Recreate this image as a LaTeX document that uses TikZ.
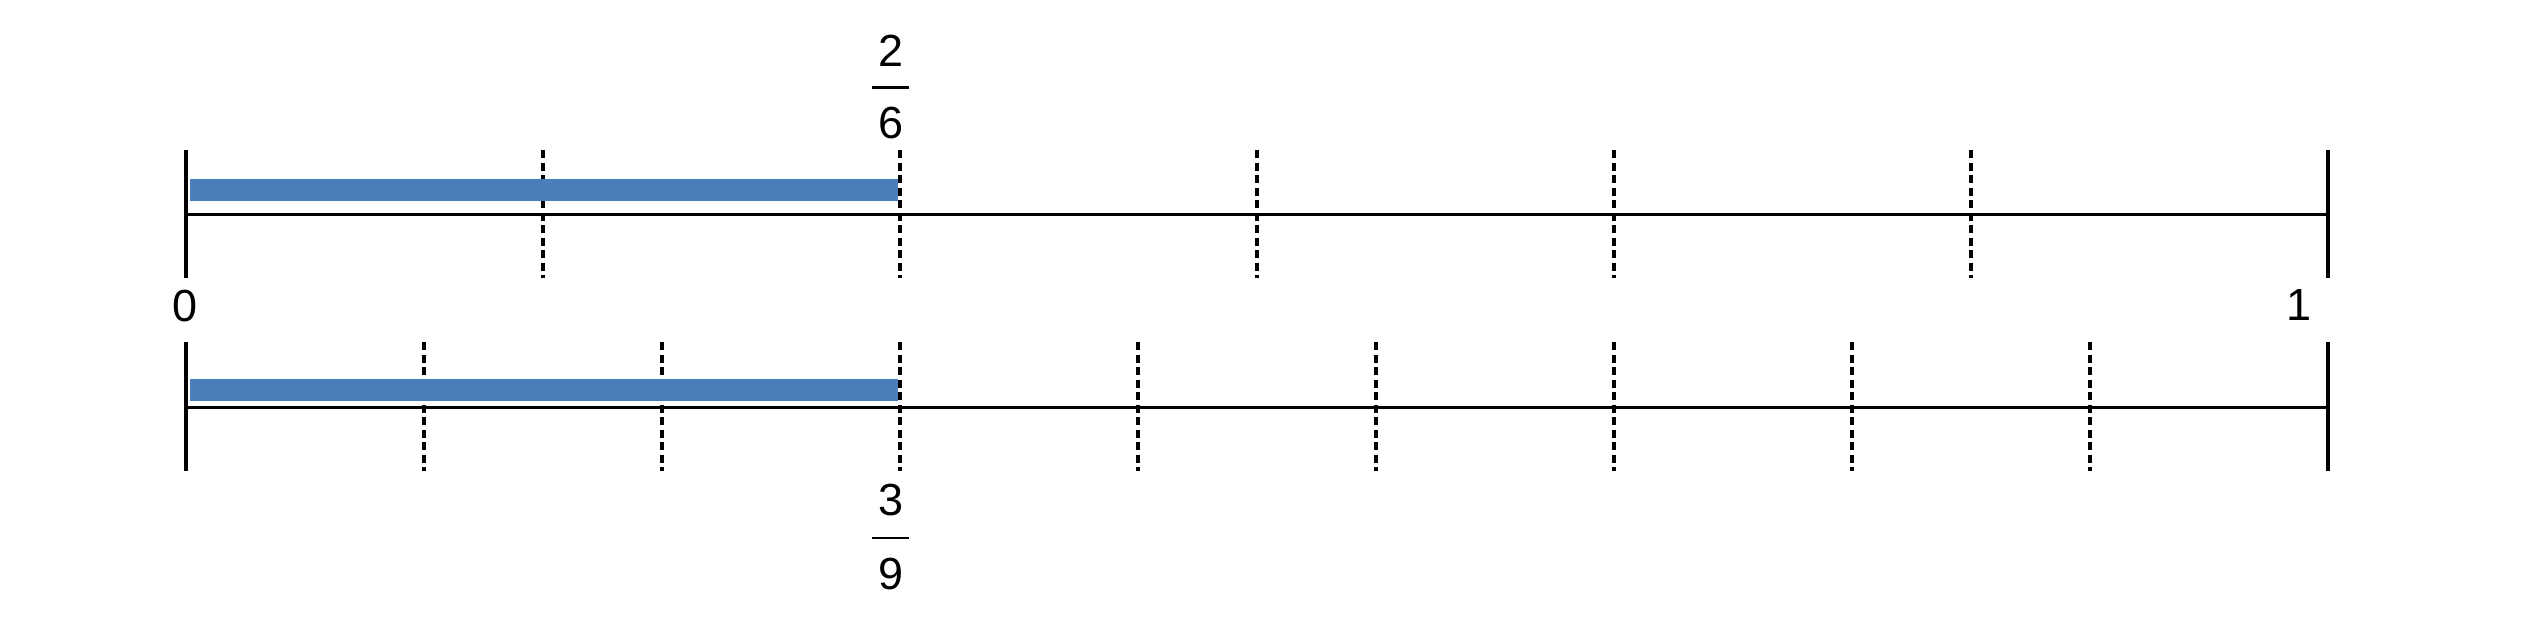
\documentclass[tikz,border=0pt]{standalone}
\usepackage{fontspec}
\setmainfont{Liberation Sans}
\usepackage{xcolor}
\usetikzlibrary{positioning}
\definecolor{barblue}{HTML}{4A7EBB}

\begin{document}
\begin{tikzpicture}[
    axis/.style={line width=0.85pt},
    endtick/.style={line width=1pt},
    midtick/.style={line width=0.95pt, dash pattern=on 0.08cm off 0.045cm},
    part/.style={fill=barblue, draw=none},
    num/.style={inner sep=0pt, font=\fontsize{12.8pt}{15pt}\selectfont},
    fracbar/.style={fill=black, inner sep=0pt, minimum width=0.37cm,
                    minimum height=0.028cm}
  ]
  \useasboundingbox (0,0) rectangle (25.26,-6.2);
  % Top line (sixths)
  \coordinate (t0) at (1.86,-2.14);
  \coordinate (t1) at (23.28,-2.14);
  \draw[axis] (t0) -- (t1);
  \draw[endtick] (1.86,-1.50) -- (1.86,-2.78);
  \draw[endtick] (23.28,-1.50) -- (23.28,-2.78);
  \foreach \i in {1,...,5}
    \draw[midtick] ({1.86+\i*3.57},-1.50) -- ({1.86+\i*3.57},-2.78);
  \fill[part] (1.90,-1.79) rectangle (8.98,-2.01);
  % Bottom line (ninths)
  \coordinate (b0) at (1.86,-4.07);
  \coordinate (b1) at (23.28,-4.07);
  \draw[axis] (b0) -- (b1);
  \draw[endtick] (1.86,-3.42) -- (1.86,-4.71);
  \draw[endtick] (23.28,-3.42) -- (23.28,-4.71);
  \foreach \i in {1,...,8}
    \draw[midtick] ({1.86+\i*2.38},-3.42) -- ({1.86+\i*2.38},-4.71);
  \fill[part] (1.90,-3.79) rectangle (8.98,-4.007);
  % Labels
  \node[num] (zero) at (1.85,-3.06) {0};
  \node[num] (one)  at (22.99,-3.05) {1};
  \node[fracbar] (twosix) at (8.905,-0.877) {};
  \node[num, above=0.18cm of twosix] (two) {2};
  \node[num, below=0.17cm of twosix] (six) {6};
  \node[fracbar] (threenine) at (8.905,-5.38) {};
  \node[num, above=0.19cm of threenine] (three) {3};
  \node[num, below=0.17cm of threenine] (nine) {9};
\end{tikzpicture}
\end{document}
